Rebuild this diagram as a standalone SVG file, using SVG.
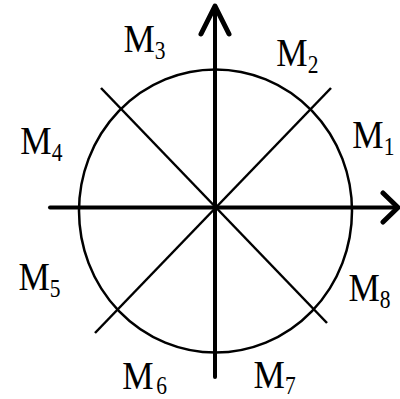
<svg xmlns="http://www.w3.org/2000/svg" width="400" height="399" viewBox="0 0 400 399">
<style>
.axis{stroke:#000;stroke-width:4;fill:none;stroke-linecap:round;stroke-linejoin:round}
.head{stroke:#000;stroke-width:5;fill:none;stroke-linecap:round;stroke-linejoin:round}
.thin{stroke:#000;stroke-width:2.5;fill:none}
.m{font-family:"Liberation Serif","Times New Roman",serif;font-size:41px;fill:#000}
.s{font-size:25px}
</style>
<rect width="400" height="399" fill="#fff"/>
<g id="connectors">
<ellipse class="thin" cx="215.5" cy="211" rx="136.5" ry="141.5"/>
<line class="thin" x1="95" y1="333" x2="331" y2="88"/>
<line class="thin" x1="101" y1="88" x2="327" y2="323"/>
<line class="axis" x1="50" y1="207.5" x2="397" y2="207.5"/>
<polyline class="head" points="383,193 398,207.5 383,222"/>
<line class="axis" x1="215" y1="377" x2="215" y2="7"/>
<polyline class="head" points="201,34 215,6 229,34"/>
</g>
<g id="M1" transform="translate(352.3,148) scale(0.86,1)"><text class="m" x="0" y="0">M<tspan class="s" dy="7">1</tspan></text></g>
<g id="M2" transform="translate(276.3,66) scale(0.86,1)"><text class="m" x="0" y="0">M<tspan class="s" dy="7">2</tspan></text></g>
<g id="M3" transform="translate(123.5,51.5) scale(0.86,1)"><text class="m" x="0" y="0">M<tspan class="s" dy="7">3</tspan></text></g>
<g id="M4" transform="translate(20.3,154) scale(0.86,1)"><text class="m" x="0" y="0">M<tspan class="s" dy="7">4</tspan></text></g>
<g id="M5" transform="translate(18.5,290) scale(0.86,1)"><text class="m" x="0" y="0">M<tspan class="s" dy="7">5</tspan></text></g>
<g id="M6" transform="translate(122.3,388.5) scale(0.86,1)"><text class="m" x="0" y="0">M<tspan class="s" dx="3" dy="5.5">6</tspan></text></g>
<g id="M7" transform="translate(253.6,388) scale(0.86,1)"><text class="m" x="0" y="0">M<tspan class="s" dy="5.5">7</tspan></text></g>
<g id="M8" transform="translate(348.5,300.5) scale(0.86,1)"><text class="m" x="0" y="0">M<tspan class="s" dy="7">8</tspan></text></g>
</svg>
